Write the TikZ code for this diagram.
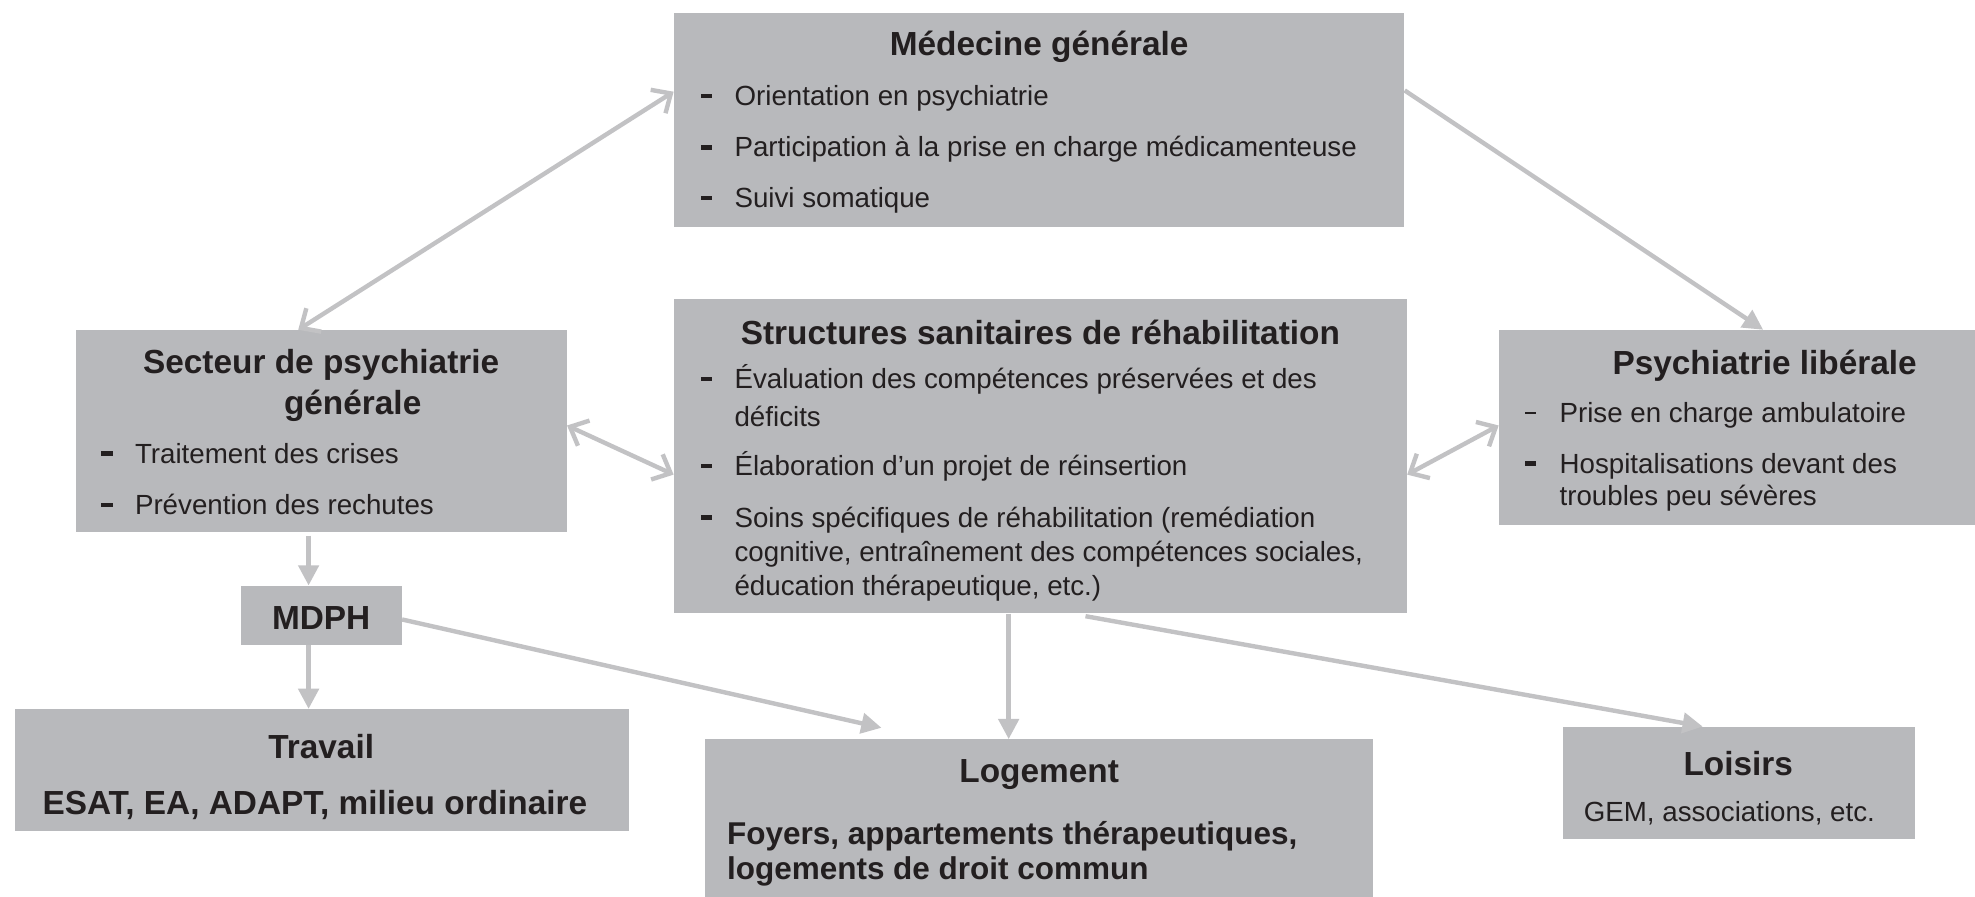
\documentclass[tikz,border=0pt]{standalone}
\usepackage{fontspec}
\setmainfont{Liberation Sans}
\usetikzlibrary{arrows.meta,fit}
\definecolor{boxgray}{RGB}{184,185,188}
\definecolor{arrgray}{RGB}{194,194,196}
\definecolor{txt}{RGB}{35,31,32}
\tikzset{
  box/.style={fill=boxgray, draw=none, inner sep=0pt},
  ttl/.style={font=\fontsize{26.5}{31}\selectfont\bfseries, text=txt, inner sep=0pt, yshift=-3pt},
  body/.style={font=\fontsize{22}{27}\selectfont, text=txt, inner sep=0pt, anchor=mid west, yshift=-5pt},
  bbody/.style={font=\fontsize{25}{30}\selectfont\bfseries, text=txt, inner sep=0pt, anchor=mid west, yshift=-6pt},
  bul/.style={fill=txt, inner sep=0pt, minimum width=9pt, minimum height=3.5pt},
  arr/.style={draw=arrgray, line width=3.5pt, -{Triangle[length=16pt,width=16pt]}},
  dbl/.style={draw=arrgray, line width=3.5pt, {Straight Barb[length=12pt,width=22pt,line width=3.5pt]}-{Straight Barb[length=12pt,width=22pt,line width=3.5pt]}},
}
\begin{document}
\begin{tikzpicture}[x=1pt,y=-1pt]
\useasboundingbox (0,0) rectangle (1568,712);
% boxes
\node[box, fit={(535,10)(1115,180)}] (med) {};
\node[box, fit={(535,237)(1117,487)}] (str) {};
\node[box, fit={(60,262)(450,422)}] (sec) {};
\node[box, fit={(1190,262)(1568,417)}] (lib) {};
\node[box, fit={(191,465)(319,512)}] (mdph) {};
\node[box, fit={(12,563)(499,660)}] (trav) {};
\node[box, fit={(560,587)(1090,712)}] (loge) {};
\node[box, fit={(1241,577)(1520,666)}] (lois) {};

% Medecine generale
\node[ttl] (medt) at (825,34) {Médecine générale};
\node[bul] (medb1) at (561,76) {};
\node[body] (med1) at (583,76) {Orientation en psychiatrie};
\node[bul] (medb2) at (561,117) {};
\node[body] (med2) at (583,117) {Participation à la prise en charge médicamenteuse};
\node[bul] (medb3) at (561,157) {};
\node[body] (med3) at (583,157) {Suivi somatique};

% Structures sanitaires
\node[ttl] (strt) at (826,261) {Structures sanitaires de réhabilitation};
\node[bul] (strb1) at (561,301) {};
\node[body] (str1a) at (583,301) {Évaluation des compétences préservées et des};
\node[body] (str1b) at (583,331) {déficits};
\node[bul] (strb2) at (561,370) {};
\node[body] (str2) at (583,370) {Élaboration d’un projet de réinsertion};
\node[bul] (strb3) at (561,411) {};
\node[body] (str3a) at (583,411) {Soins spécifiques de réhabilitation (remédiation};
\node[body] (str3b) at (583,438) {cognitive, entraînement des compétences sociales,};
\node[body] (str3c) at (583,465) {éducation thérapeutique, etc.)};

% Secteur
\node[ttl] (sect1) at (255,287) {Secteur de psychiatrie};
\node[ttl] (sect2) at (280,319) {générale};
\node[bul] (secb1) at (85,360) {};
\node[body] (sec1) at (107,360) {Traitement des crises};
\node[bul] (secb2) at (85,401) {};
\node[body] (sec2) at (107,401) {Prévention des rechutes};

% Psychiatrie liberale
\node[ttl] (libt) at (1401,287) {Psychiatrie libérale};
\node[bul, minimum height=2pt] (libb1) at (1215,328) {};
\node[body] (lib1) at (1238,328) {Prise en charge ambulatoire};
\node[bul] (libb2) at (1215,368) {};
\node[body] (lib2a) at (1238,368) {Hospitalisations devant des};
\node[body] (lib2b) at (1238,394) {troubles peu sévères};

% MDPH
\node[ttl] (mdpht) at (255,488) {MDPH};

% Travail
\node[ttl] (travt) at (255,590) {Travail};
\node[ttl] (trav1) at (250,636) {ESAT, EA, ADAPT, milieu ordinaire};

% Logement
\node[ttl] (loget) at (825,612) {Logement};
\node[bbody] (loge1) at (577,662) {Foyers, appartements thérapeutiques,};
\node[bbody] (loge2) at (577,690) {logements de droit commun};

% Loisirs
\node[ttl] (loist) at (1380,603) {Loisirs};
\node[body, anchor=center, yshift=3pt] (lois1) at (1373,644) {GEM, associations, etc.};

% connectors
\draw[dbl] ([yshift=-63pt]med.north west) -- ([xshift=177pt]sec.north west);
\draw[arr] ([yshift=-62pt]med.north east) -- ([xshift=210pt]lib.north west);
\draw[dbl] ([yshift=-76pt]sec.north east) -- ([yshift=-140pt]str.north west);
\draw[dbl] ([yshift=-140pt]str.north east) -- ([yshift=-76pt]lib.north west);
\draw[arr] ([xshift=-10pt,yshift=-3pt]sec.south -| mdph.north) -- ([xshift=-10pt]mdph.north);
\draw[arr] ([xshift=-10pt]mdph.south) -- ([xshift=-10pt]mdph.south |- trav.north);
\draw[arr] ([yshift=-27pt]mdph.north east) -- ([xshift=140pt,yshift=9pt]loge.north west);
\draw[arr] ([xshift=266pt]str.south west) -- ([xshift=241pt]loge.north west);
\draw[arr] ([xshift=327pt,yshift=-2pt]str.south west) -- ([xshift=111pt]lois.north west);
\end{tikzpicture}
\end{document}
